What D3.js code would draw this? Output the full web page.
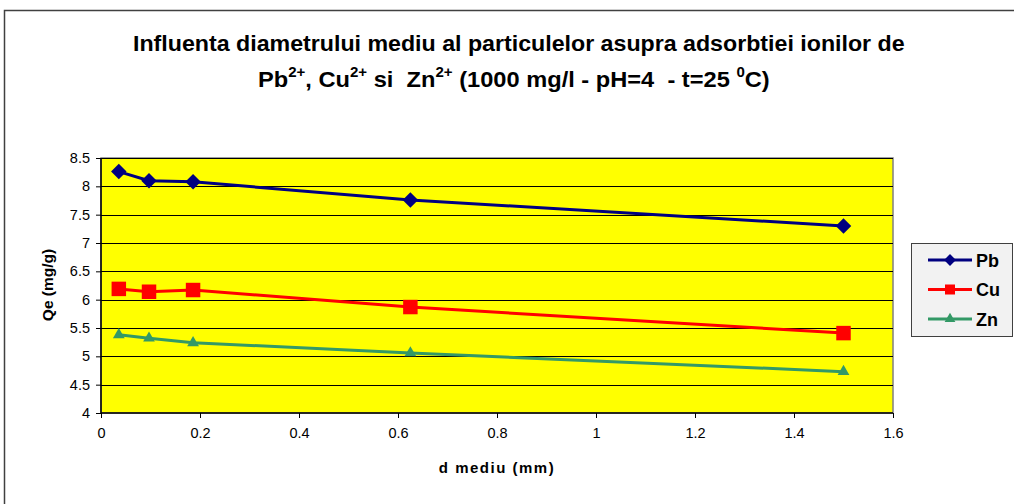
<!DOCTYPE html>
<html><head><meta charset="utf-8">
<script src="https://cdn.jsdelivr.net/npm/d3@7"></script>
<style>body{margin:0;background:#fff}svg{display:block;font-family:"Liberation Sans",Arial,sans-serif}</style>
</head><body><svg id="c" width="1014" height="504"></svg>
<script>
const xValues = [0.036, 0.097, 0.186, 0.625, 1.5];
const pbValues = [8.26, 8.10, 8.08, 7.76, 7.30];
const cuValues = [6.19, 6.14, 6.17, 5.87, 5.41];
const znValues = [5.38, 5.32, 5.24, 5.06, 4.73];
const seriesNames = ["Pb", "Cu", "Zn"];
const xTicks = [0, 0.2, 0.4, 0.6, 0.8, 1, 1.2, 1.4, 1.6];
const yTicks = [4, 4.5, 5, 5.5, 6, 6.5, 7, 7.5, 8, 8.5];

const svg = d3.select("#c");
const L = 101, R = 893, T = 158, B = 413;
const x = d3.scaleLinear().domain([0, 1.6]).range([L, R]);
const y = d3.scaleLinear().domain([4, 8.5]).range([B, T]);

// outer chart border
svg.append("rect").attr("x", 4.5).attr("y", 10.5).attr("width", 1020).attr("height", 510)
  .attr("fill", "#fff").attr("stroke", "#404040").attr("stroke-width", 1.5);

// fit a text element horizontally into [x0, x1]
function fitText(sel, x0, x1) {
  const bb = sel.node().getBBox();
  const s = (x1 - x0) / bb.width;
  sel.attr("transform", `translate(${x0},0) scale(${s},1) translate(${-bb.x},0)`);
}

// title
const t1 = svg.append("text").attr("font-weight", "bold").attr("font-size", 22).attr("fill", "#000")
  .attr("x", 0).attr("y", 51).text("Influenta diametrului mediu al particulelor asupra adsorbtiei ionilor de");
fitText(t1, 133, 905);
const t2 = svg.append("text").attr("font-weight", "bold").attr("font-size", 22).attr("fill", "#000")
  .attr("x", 0).attr("y", 87);
const parts = [["Pb",0],["2+",1],[", Cu",0],["2+",1],[" si  Zn",0],["2+",1],[" (1000 mg/l - pH=4  - t=25 ",0],["0",1],["C)",0]];
parts.forEach((p, i) => {
  const prevSup = i > 0 ? parts[i-1][1] : 0;
  const ts = t2.append("tspan").text(p[0]).attr("xml:space", "preserve");
  if (p[1]) ts.attr("font-size", 14).attr("dy", -10);
  else ts.attr("dy", prevSup ? 10 : 0);
});
t2.style("white-space", "pre");
fitText(t2, 258, 770);

// plot area
svg.append("rect").attr("x", L).attr("y", T).attr("width", R - L).attr("height", B - T)
  .attr("fill", "#ffff00").attr("stroke", "#808080").attr("stroke-width", 1.5);

// gridlines
svg.append("g").selectAll("line").data(yTicks.filter(v => v > 4 && v < 8.5)).join("line")
  .attr("x1", L).attr("x2", R).attr("y1", d => Math.round(y(d)) + 0.5).attr("y2", d => Math.round(y(d)) + 0.5)
  .attr("stroke", "#000").attr("stroke-width", 1.2);
svg.append("line").attr("x1", L).attr("x2", R).attr("y1", T + 0.5).attr("y2", T + 0.5).attr("stroke", "#000");

// axes
const yAxis = d3.axisLeft(y).tickValues(yTicks).tickFormat(d3.format("")).tickSize(5).tickPadding(6);
const gy = svg.append("g").attr("transform", `translate(${L},0)`).call(yAxis);
const xAxis = d3.axisBottom(x).tickValues(xTicks).tickFormat(d3.format("")).tickSize(5).tickPadding(10);
const gx = svg.append("g").attr("transform", `translate(0,${B})`).call(xAxis);
[gy, gx].forEach(g => {
  g.select(".domain").attr("stroke", "#000").attr("stroke-width", 1.5);
  g.selectAll(".tick line").attr("stroke", "#000");
  g.selectAll("text").attr("font-size", 14.5).attr("fill", "#000").attr("font-family", '"Liberation Sans",Arial,sans-serif');
});
gy.select(".domain").attr("d", `M0,${T}V${B}`);
gx.select(".domain").attr("d", `M${L},0H${R}`);

// axis titles
svg.append("text").attr("transform", `translate(53,${285}) rotate(-90)`)
  .attr("text-anchor", "middle").attr("font-weight", "bold").attr("font-size", 15.5).text("Qe (mg/g)");
svg.append("text").attr("x", 497).attr("y", 473).attr("text-anchor", "middle").attr("letter-spacing", 1.5)
  .attr("font-weight", "bold").attr("font-size", 15).text("d mediu (mm)");

// series
const series = [
  {name: seriesNames[0], vals: pbValues, color: "#000080", sym: d3.symbolSquare, size: 120, rot: 45},
  {name: seriesNames[1], vals: cuValues, color: "#ff0000", sym: d3.symbolSquare, size: 210, rot: 0},
  {name: seriesNames[2], vals: znValues, color: "#339966", sym: d3.symbolTriangle, size: 60, rot: 0}
];
const line = d3.line().x(d => x(d[0])).y(d => y(d[1]));
series.forEach(s => {
  const pts = xValues.map((xv, i) => [xv, s.vals[i]]);
  svg.append("path").attr("d", line(pts)).attr("fill", "none").attr("stroke", s.color).attr("stroke-width", 3);
  svg.append("g").selectAll("path").data(pts).join("path")
    .attr("transform", d => `translate(${x(d[0])},${y(d[1])}) rotate(${s.rot})`)
    .attr("d", d3.symbol().type(s.sym).size(s.size)).attr("fill", s.color);
});

// legend
const lg = svg.append("g");
lg.append("rect").attr("x", 911.5).attr("y", 243.5).attr("width", 101).attr("height", 93)
  .attr("fill", "#f2f2f2").attr("stroke", "#404040").attr("stroke-width", 1);
const legSizes = [70, 100, 50];
series.forEach((s, i) => {
  const yy = 260 + i * 29.5;
  lg.append("line").attr("x1", 928).attr("x2", 972).attr("y1", yy).attr("y2", yy)
    .attr("stroke", s.color).attr("stroke-width", 3);
  lg.append("path").attr("transform", `translate(950,${yy}) rotate(${s.rot})`)
    .attr("d", d3.symbol().type(s.sym).size(legSizes[i]))
    .attr("fill", s.color);
  lg.append("text").attr("x", 976).attr("y", yy + 6.5).attr("font-weight", "bold").attr("font-size", 18).text(s.name);
});
</script></body></html>
